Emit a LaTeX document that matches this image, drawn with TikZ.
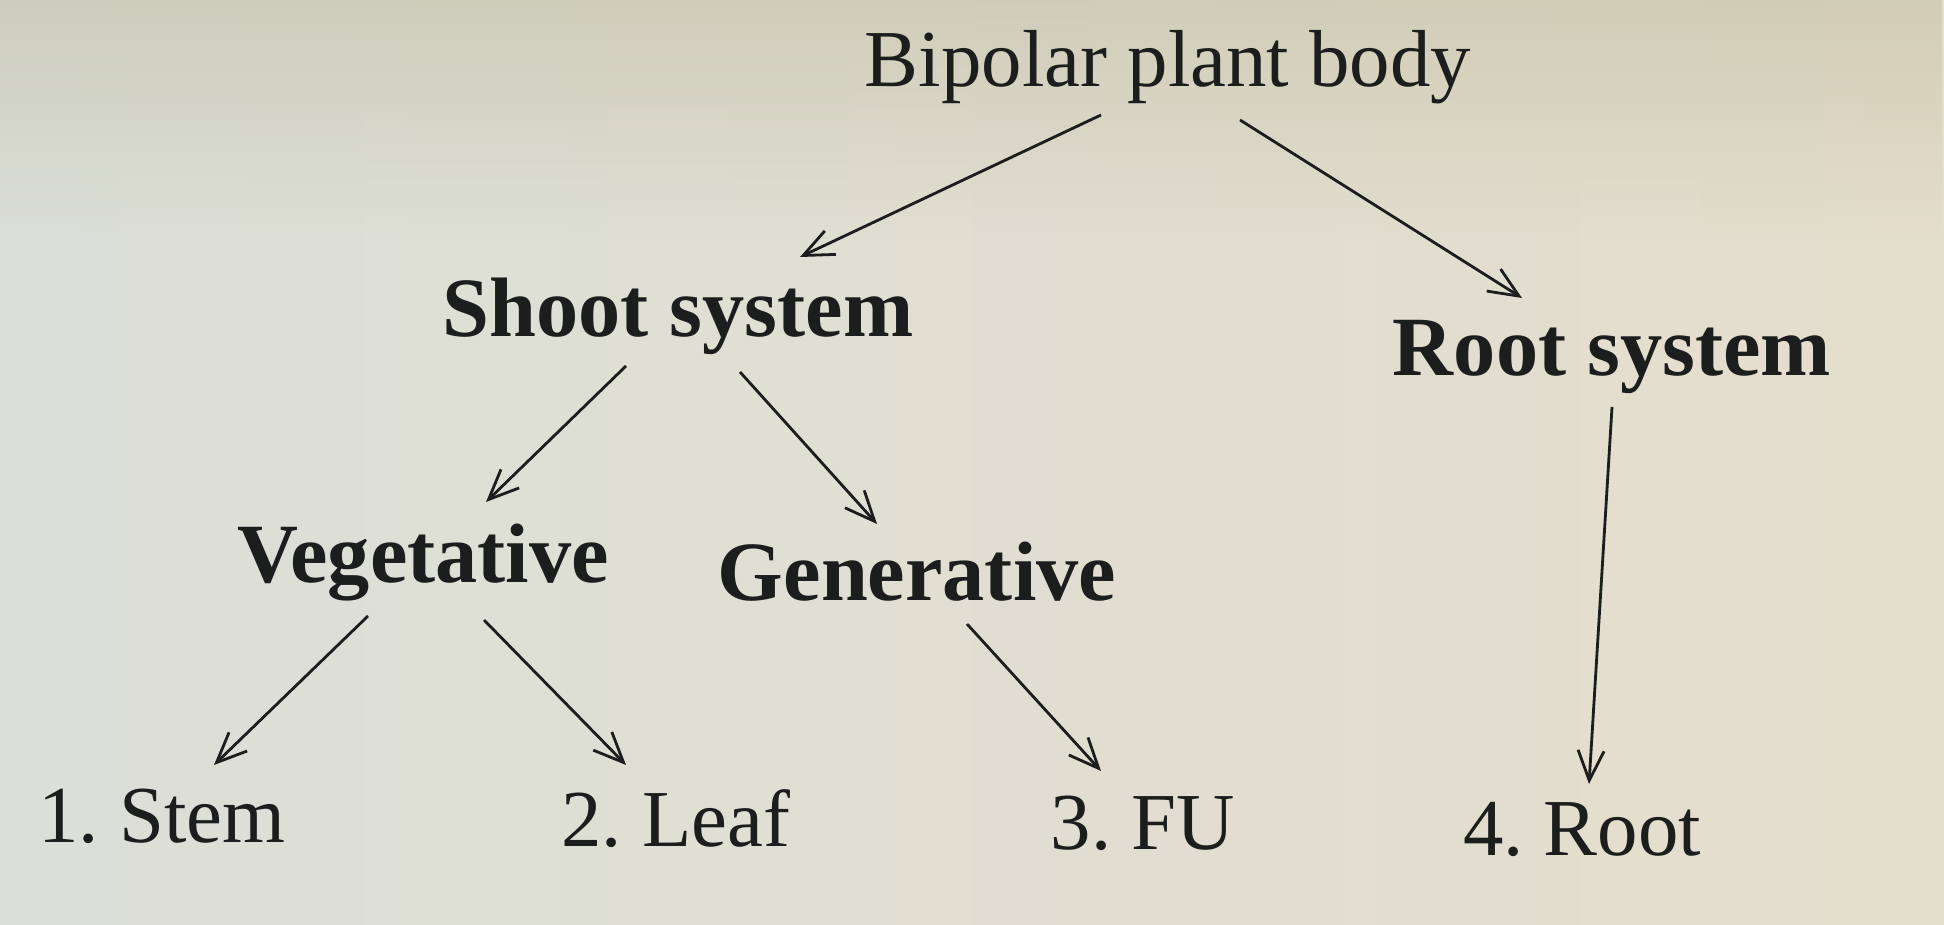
\documentclass[tikz,border=0pt]{standalone}
\usepackage{fontspec}
\setmainfont{Liberation Serif}
\usetikzlibrary{calc,arrows.meta,fadings}
\definecolor{ink}{RGB}{28,30,30}
\definecolor{screenl}{RGB}{220,223,216}
\definecolor{screenm}{RGB}{236,242,237}
\definecolor{screenr}{RGB}{228,222,204}
\definecolor{screentop}{RGB}{170,166,128}

\tikzset{
  part/.style={anchor=base, inner sep=0pt, text=ink, font=\fontsize{23}{27}\selectfont},
  group/.style={part, font=\fontsize{24}{28}\selectfont\bfseries},
  branch/.style={draw=ink, line width=0.8pt, -{Straight Barb[length=3mm,width=2.6mm]}}
}

\begin{document}
\begin{tikzpicture}
          \shade[left color=screenl, middle color=screenm, right color=screenr] (0, 0) rectangle (19.44, -9.25);
          \fill[screentop, opacity=0.3, path fading=south] (0, 0) rectangle (19.44, -2.4);
          \useasboundingbox (0, 0) rectangle (19.44, -9.25);
          \node[part] (body) at (11.68, -0.87) {Bipolar plant body};
          \node[group] (shoot) at (6.78, -3.37) {Shoot system};
          \node[group] (rootsys) at (16.12, -3.76) {Root system};
          \node[group] (veg) at (4.23, -5.83) {Vegetative};
          \node[group] (gen) at (9.17, -6.01) {Generative};
          %
          \node[part] (stem) at (1.62, -8.43) {1.\ Stem};
          \node[part] (leaf) at (6.76, -8.46) {2.\ Leaf};
          \node[part] (fu) at (11.43, -8.49) {3.\ FU};
          \node[part] (root) at (15.82, -8.55) {4.\ Root};
          %
          \draw[branch] ($(body.base)+(-0.67,-0.28)$) -- ($(shoot.base)+(1.22,0.80)$);
          \draw[branch] ($(body.base)+(0.72,-0.33)$) -- ($(rootsys.base)+(-0.90,0.78)$);
          \draw[branch] ($(shoot.base)+(-0.52,-0.29)$) -- ($(veg.base)+(0.63,0.81)$);
          \draw[branch] ($(shoot.base)+(0.62,-0.35)$) -- ($(gen.base)+(-0.40,0.77)$);
          \draw[branch] ($(rootsys.base)+(0.00,-0.31)$) -- ($(root.base)+(0.07,0.71)$);
          \draw[branch] ($(veg.base)+(-0.55,-0.33)$) -- ($(stem.base)+(0.52,0.78)$);
          \draw[branch] ($(veg.base)+(0.61,-0.37)$) -- ($(leaf.base)+(-0.50,0.81)$);
          \draw[branch] ($(gen.base)+(0.50,-0.23)$) -- ($(fu.base)+(-0.42,0.78)$);
        \end{tikzpicture}
\end{document}
